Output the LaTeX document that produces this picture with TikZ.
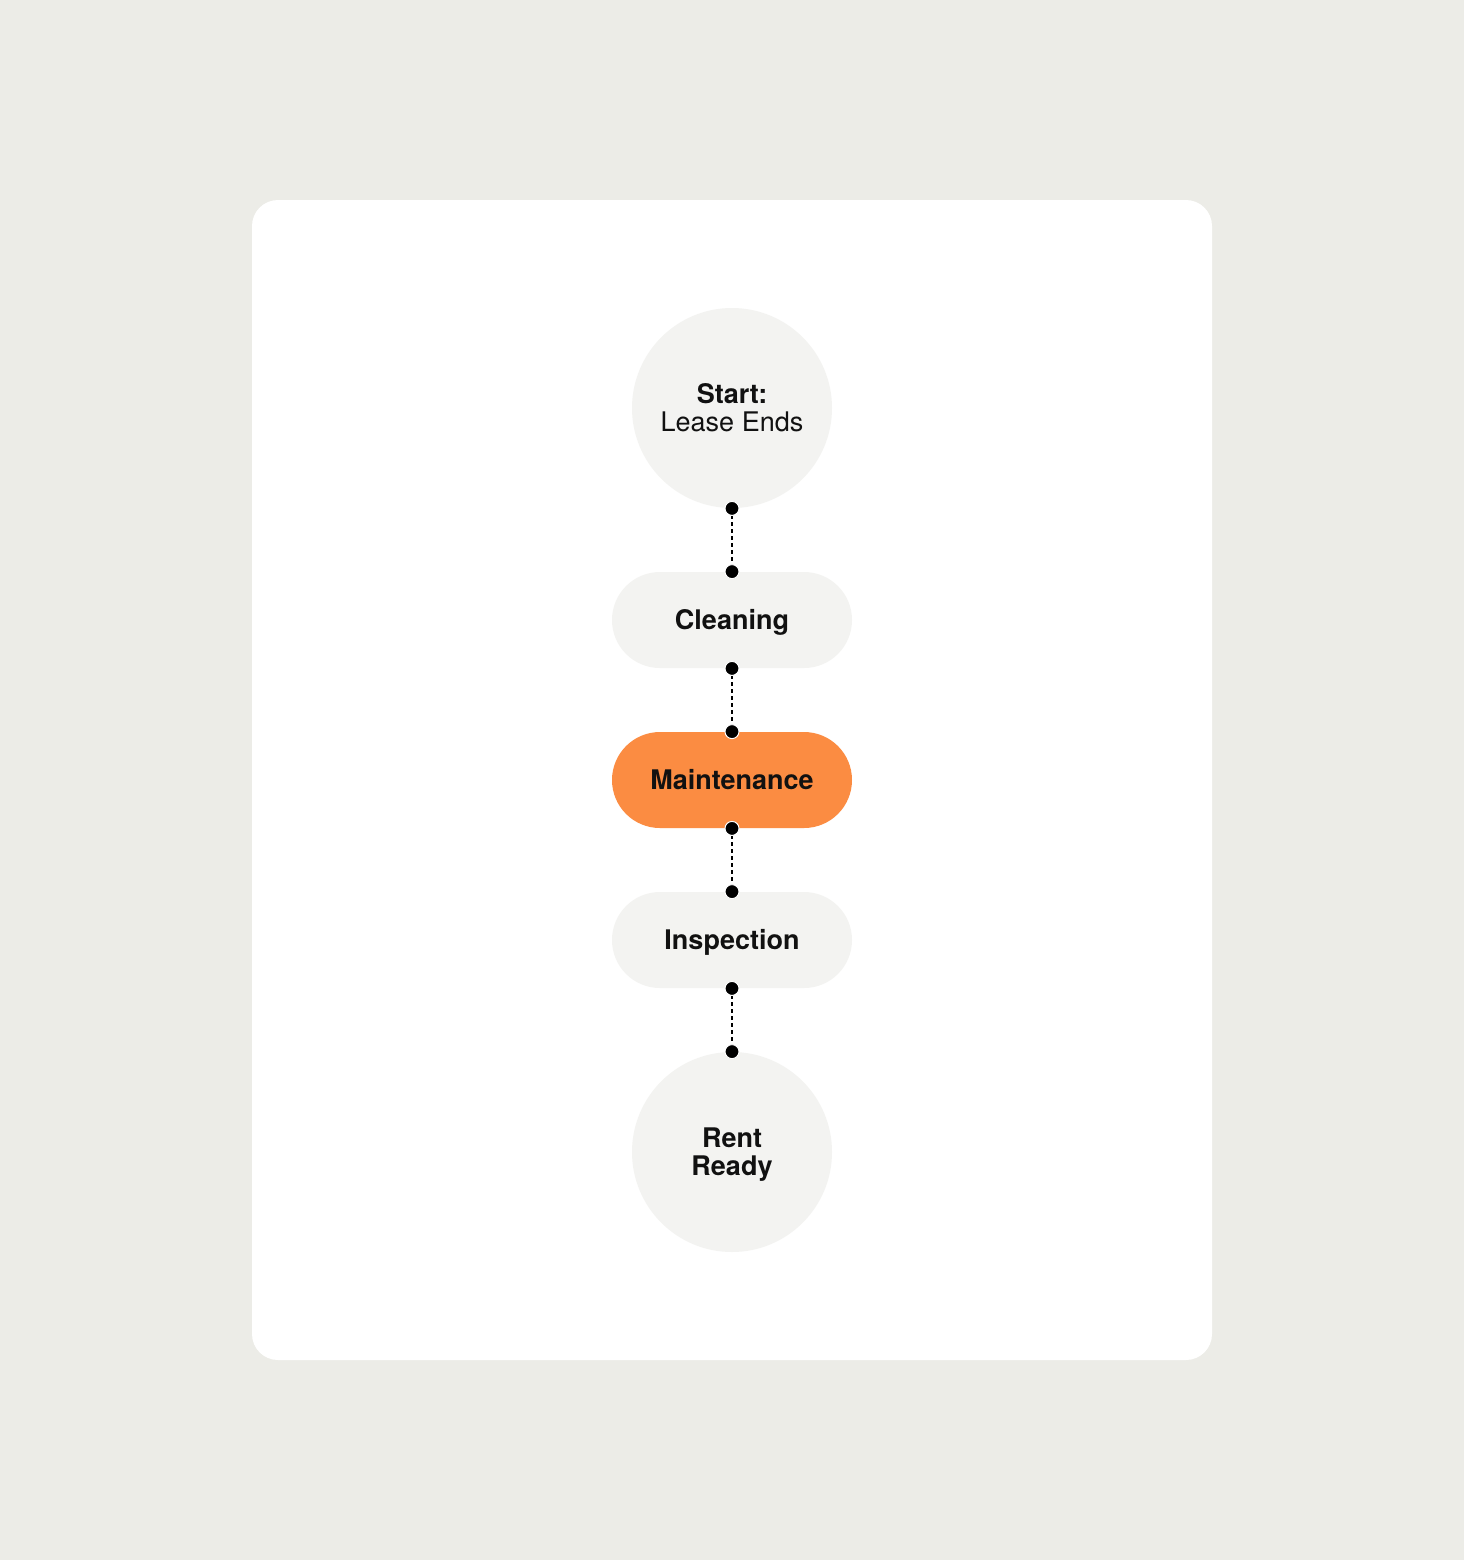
\documentclass[tikz,border=0pt]{standalone}
\usepackage{fontspec}
\setmainfont{TeX Gyre Heros}
\usetikzlibrary{arrows.meta}
\definecolor{bgc}{RGB}{236,236,231}
\definecolor{nodec}{RGB}{243,243,241}
\definecolor{orangec}{RGB}{251,140,66}
\definecolor{inkc}{RGB}{17,17,17}
\tikzset{
  x=0.5pt, y=-0.5pt,
  lbl/.style={font=\fontsize{13.5}{14}\selectfont, text=inkc, align=center, inner sep=0pt},
  roundnode/.style={lbl, circle, fill=nodec, minimum size=100pt},
  pillnode/.style={lbl, rectangle, rounded corners=24pt, fill=nodec, minimum width=120pt, minimum height=48pt, text height=9.7pt, text depth=0pt},
  hotnode/.style={pillnode, fill=orangec},
  conn/.style={draw=black, line width=0.9pt, dash pattern=on 2pt off 1.5pt,
    {Circle[length=7.5pt, fill=black, color=white, line width=0.5pt]}-{Circle[length=7.5pt, fill=black, color=white, line width=0.5pt]},
    shorten <=-3.75pt, shorten >=-3.75pt}
}
\begin{document}
\begin{tikzpicture}
\fill[bgc] (0,0) rectangle (1464,1560);
\useasboundingbox (0,0) rectangle (1464,1560);
\fill[white, rounded corners=13pt] (252,200) rectangle (1212,1360);
\node[roundnode] (start) at (732,408) {\textbf{Start:}\\Lease Ends};
\node[pillnode] (clean) at (732,620) {\textbf{Cleaning}};
\node[hotnode] (maint) at (732,780) {\textbf{Maintenance}};
\node[pillnode] (insp) at (732,940) {\textbf{Inspection}};
\node[roundnode, text depth=0pt] (ready) at (732,1152) {\textbf{Rent}\\\textbf{Ready}};
\draw[conn] (start.south) -- (clean.north);
\draw[conn] (clean.south) -- (maint.north);
\draw[conn] (maint.south) -- (insp.north);
\draw[conn] (insp.south) -- (ready.north);
\end{tikzpicture}
\end{document}
